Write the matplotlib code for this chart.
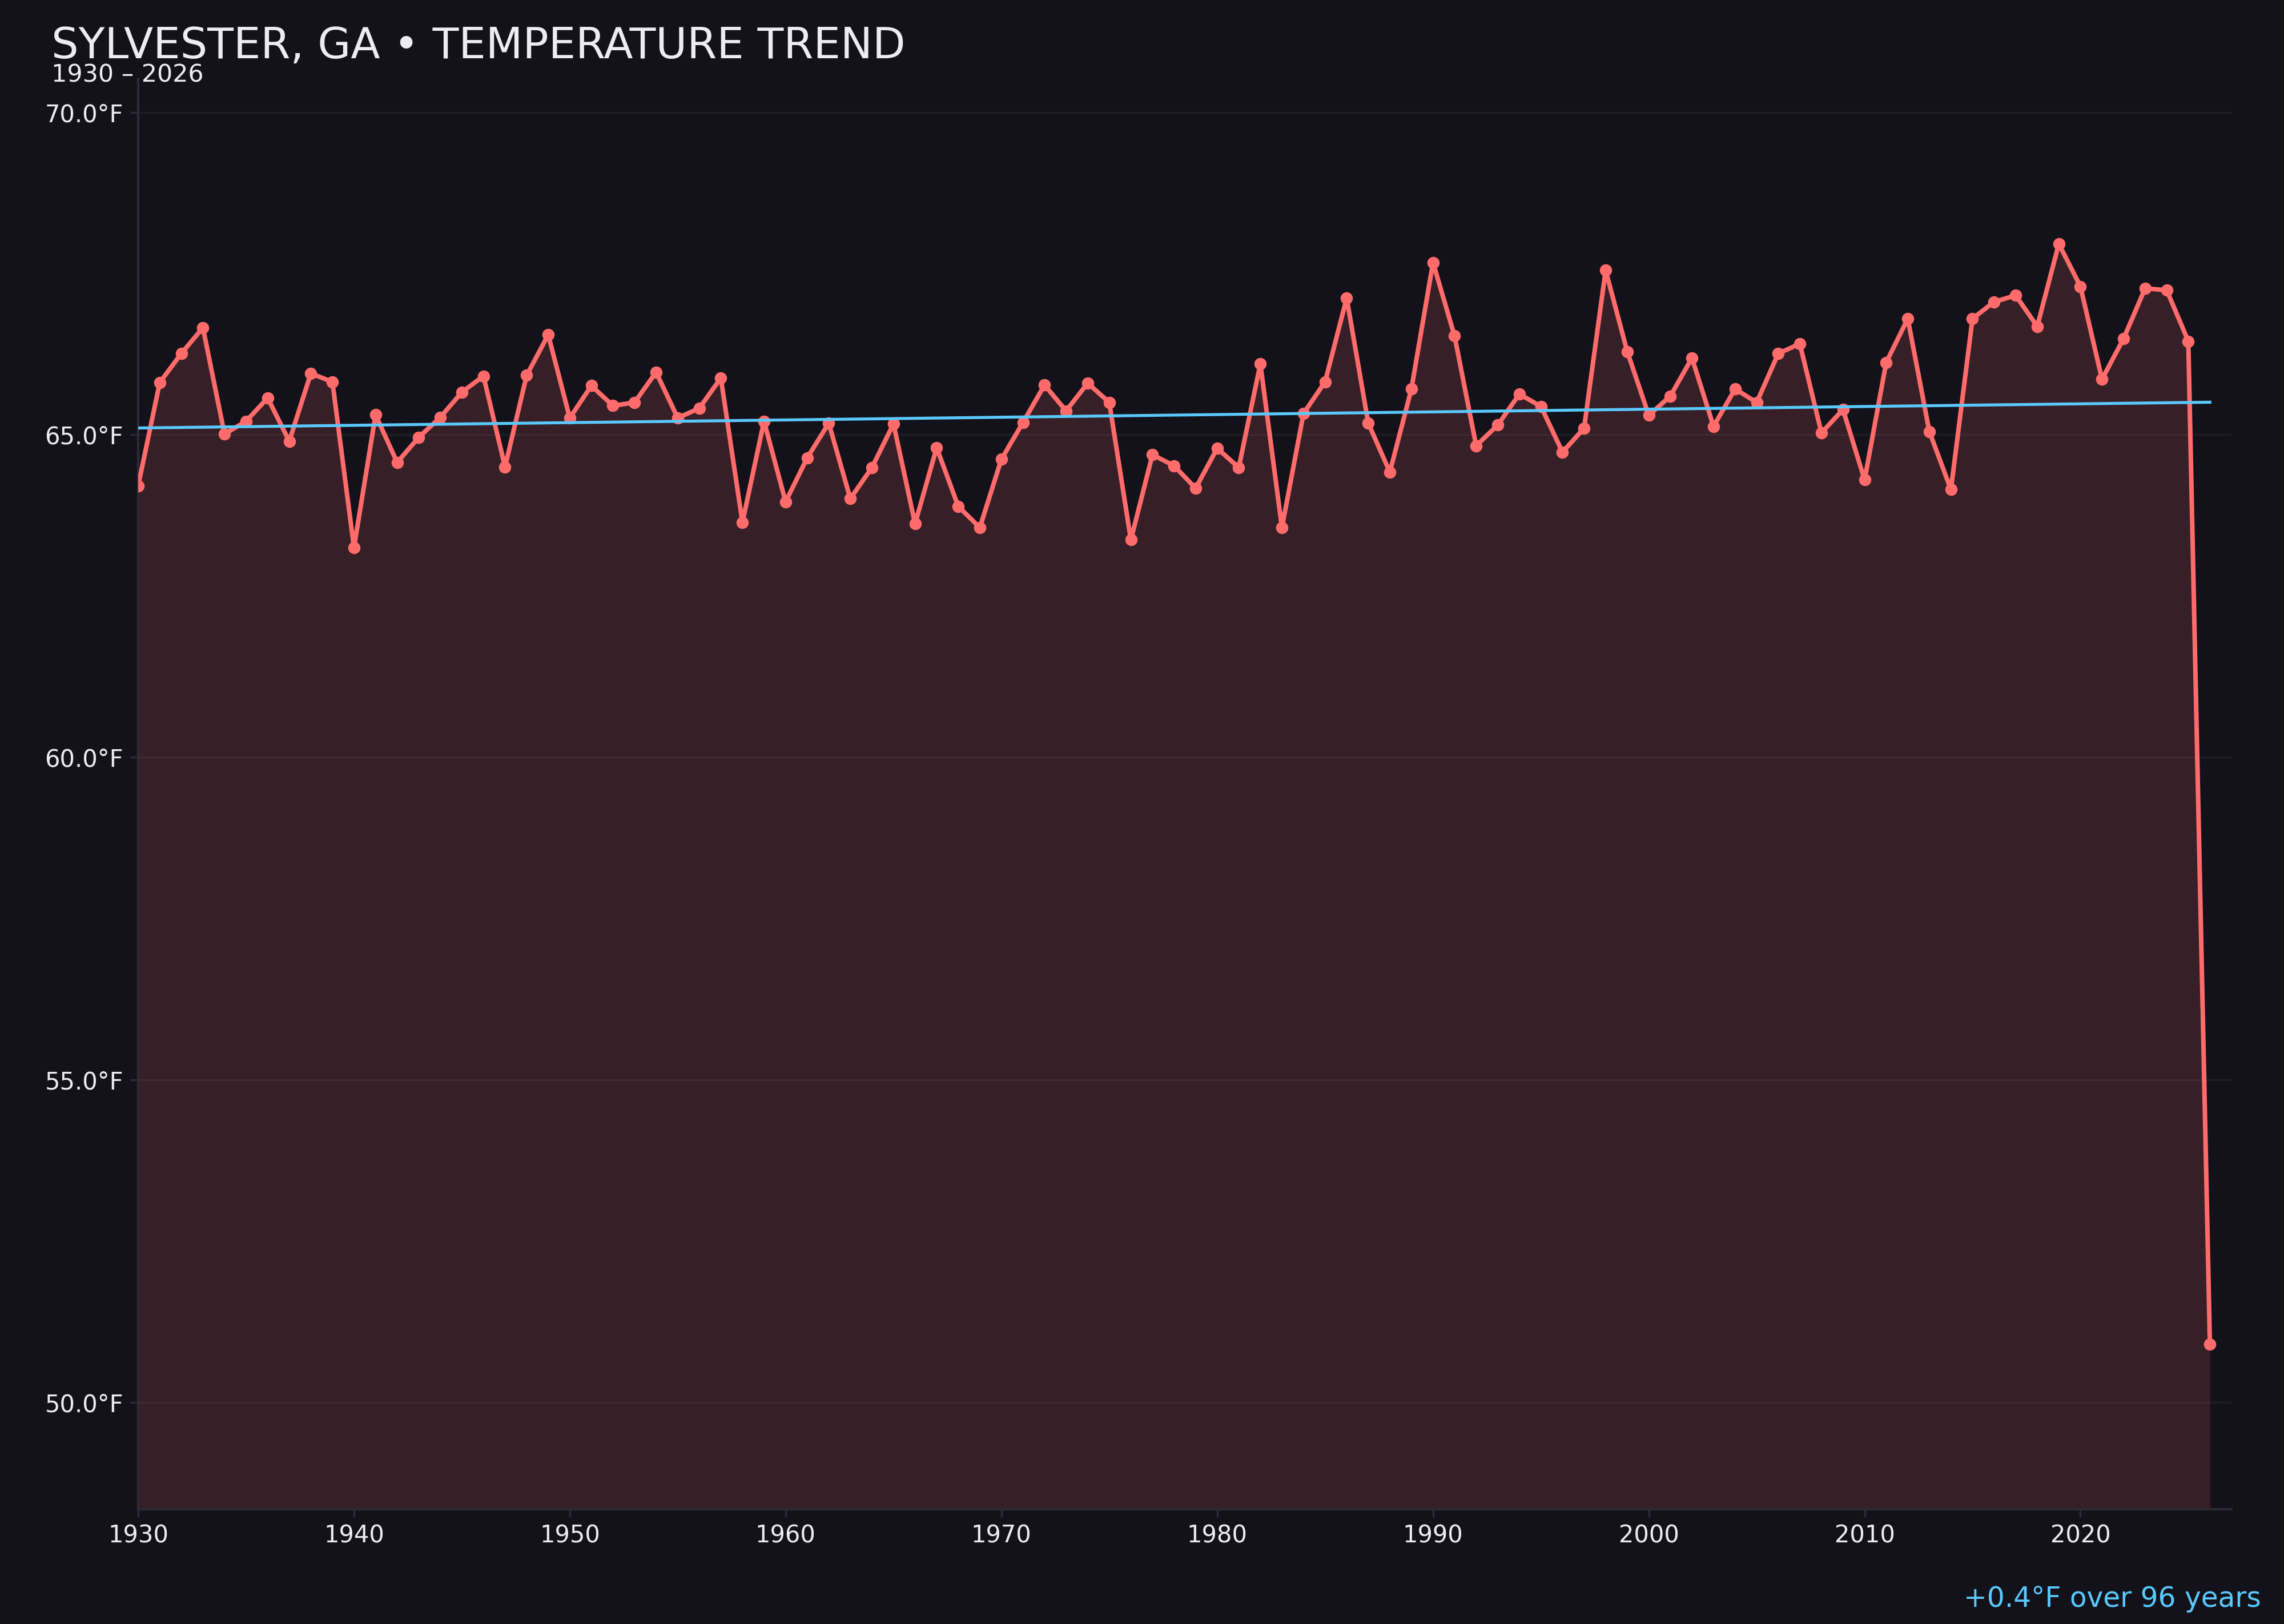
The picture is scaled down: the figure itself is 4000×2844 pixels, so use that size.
import numpy as np
import matplotlib.pyplot as plt
from matplotlib.ticker import FuncFormatter, MultipleLocator

# annual mean temperature
years = np.arange(1930, 2027)
temps = [
    64.21, 65.81, 66.26, 66.66, 65.01, 65.21, 65.57, 64.90, 65.95, 65.82,  # 1930s
    63.25, 65.31, 64.57, 64.96, 65.27, 65.66, 65.91, 64.50, 65.92, 66.55,  # 1940s
    65.26, 65.76, 65.45, 65.50, 65.97, 65.26, 65.41, 65.88, 63.64, 65.21,  # 1950s
    63.96, 64.64, 65.18, 64.01, 64.49, 65.17, 63.62, 64.80, 63.89, 63.56,  # 1960s
    64.62, 65.19, 65.77, 65.37, 65.80, 65.50, 63.37, 64.69, 64.52, 64.17,  # 1970s
    64.79, 64.49, 66.10, 63.56, 65.33, 65.82, 67.12, 65.18, 64.42, 65.71,  # 1980s
    67.67, 66.53, 64.83, 65.15, 65.63, 65.44, 64.73, 65.10, 67.55, 66.29,  # 1990s
    65.30, 65.60, 66.19, 65.13, 65.71, 65.50, 66.26, 66.41, 65.03, 65.39,  # 2000s
    64.30, 66.12, 66.80, 65.05, 64.15, 66.80, 67.06, 67.16, 66.68, 67.96,  # 2010s
    67.30, 65.86, 66.49, 67.27, 67.24, 66.45, 50.90,                      # 2020s
]
temps = np.array(temps)

TITLE = "SYLVESTER, GA \u2022 TEMPERATURE TREND"
SUBTITLE = "1930 \u2013 2026"

BG = "#13121a"
LINE = "#ff6b6b"
TREND = "#5ac8fa"
TEXT = "#ececf2"
SPINE = "#2c2c36"

plt.rcParams['font.family'] = ['DejaVu Sans']

fig = plt.figure(figsize=(16, 11.376), dpi=250, facecolor=BG)
ax = fig.add_axes([0.0605, 0.0707, 0.9165, 0.8808])
ax.set_facecolor(BG)

pad = (temps.max() - temps.min()) * 0.15
ymin = temps.min() - pad
ymax = temps.max() + pad

# area + line
ax.fill_between(years, temps, ymin, color=LINE, alpha=0.15, linewidth=0, zorder=1)
ax.plot(years, temps, color=LINE, linewidth=2.3, marker='o', markersize=5.2, zorder=3)

# linear trend
slope, intercept = np.polyfit(years, temps, 1)
ax.plot(years, slope * years + intercept, color=TREND, linewidth=1.5, zorder=4)

ax.set_xlim(1930, 2027)
ax.set_ylim(ymin, ymax)
ax.xaxis.set_major_locator(MultipleLocator(10))
ax.yaxis.set_major_locator(MultipleLocator(5))
ax.yaxis.set_major_formatter(FuncFormatter(lambda v, p: f"{v:.1f}\u00b0F"))

ax.grid(axis='y', color='white', alpha=0.05, linewidth=1.0)
ax.set_axisbelow(True)
for side in ['top', 'right']:
    ax.spines[side].set_visible(False)
for side in ['left', 'bottom']:
    ax.spines[side].set_color(SPINE)
    ax.spines[side].set_linewidth(1.2)
ax.tick_params(colors=SPINE, labelcolor=TEXT, labelsize=12, length=4, width=1)

fig.text(0.0225, 0.964, TITLE, color=TEXT, fontsize=21.6, va='baseline', ha='left')
fig.text(0.0225, 0.9495, SUBTITLE, color=TEXT, fontsize=12.3, va='baseline', ha='left')

change = slope * (years[-1] - years[0])
fig.text(0.990, 0.0105, f"{change:+.1f}\u00b0F over {years[-1] - years[0]} years",
         color=TREND, fontsize=14, va='baseline', ha='right')

fig.savefig("out.png", dpi=250, facecolor=BG)
